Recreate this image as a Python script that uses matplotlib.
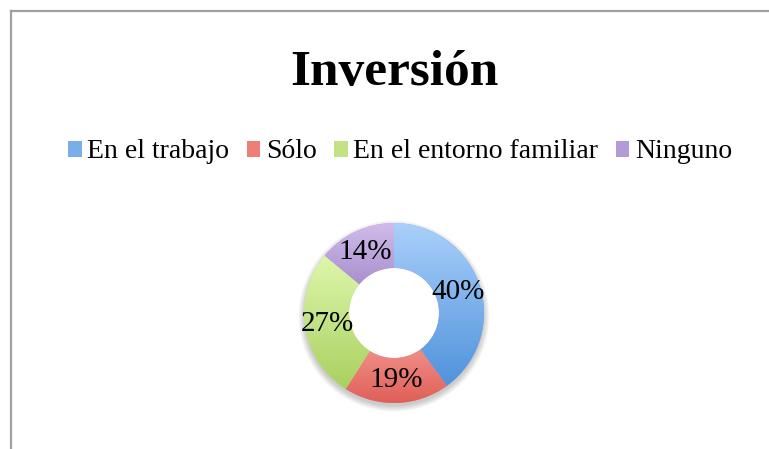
import numpy as np
import matplotlib
matplotlib.use("Agg")
import matplotlib.pyplot as plt
from matplotlib.patches import Patch, Circle
from matplotlib.lines import Line2D

# Chart data
categories = ["En el trabajo", "Sólo", "En el entorno familiar", "Ninguno"]
values = [40, 19, 27, 14]
labels = ["40%", "19%", "27%", "14%"]

# gradient colours per slice (top, bottom)
top_colors = ["#aad0fb", "#fbaca8", "#def7ac", "#d0bcea"]
bottom_colors = ["#4f92dc", "#df5f57", "#a9d05f", "#977bc2"]
mid_colors = ["#78aeea", "#ee7f78", "#c3e285", "#b39bd6"]

plt.rcParams['font.family'] = ['Liberation Serif', 'DejaVu Serif']

W, H = 769, 449
fig = plt.figure(figsize=(W / 100, H / 100), dpi=100)
fig.patch.set_facecolor("white")

# chart frame (only left/top edges visible)
fig.add_artist(Line2D([11 / W, 11 / W], [0, 1 - 11 / H], color="#a0a0a0", lw=1.6))
fig.add_artist(Line2D([11 / W, 1], [1 - 11 / H, 1 - 11 / H], color="#a0a0a0", lw=1.6))

# title
fig.text(394 / W, 1 - 73 / H, "Inversión", ha="center", va="center",
         fontsize=37, fontweight="bold")

# donut axes, center (394, 313) px, radius 90 px
cx, cy, r_px, half = 394, 313, 90, 100
ax = fig.add_axes([(cx - half) / W, (H - cy - half) / H, 2 * half / W, 2 * half / H])
lim = half / r_px
ax.set_xlim(-lim, lim)
ax.set_ylim(-lim, lim)
ax.set_aspect("equal")
ax.axis("off")

# soft shadow under the ring
for k in range(6):
    ax.add_patch(Circle((0.0, -0.035), 1.0 + 0.012 * k, facecolor="#000000",
                        alpha=0.035, lw=0, zorder=0))

wedges, texts, autotexts = ax.pie(values, startangle=90, counterclock=False,
                                  radius=1.0, colors=mid_colors,
                                  wedgeprops=dict(width=0.5, linewidth=0),
                                  autopct="%1.0f%%", pctdistance=0.75,
                                  textprops=dict(fontsize=21, color="black"))
for t, lab in zip(autotexts, labels):
    t.set_text(lab)
    t.set_zorder(5)

# fill each slice with a vertical gradient (light on top, darker below)
for w, c0, c1 in zip(wedges, top_colors, bottom_colors):
    verts = w.get_path().vertices
    x0, x1 = verts[:, 0].min(), verts[:, 0].max()
    y0, y1 = verts[:, 1].min(), verts[:, 1].max()
    a = np.array(matplotlib.colors.to_rgb(c0))
    b = np.array(matplotlib.colors.to_rgb(c1))
    t = np.linspace(0, 1, 256)[:, None]
    grad = (a[None, :] * (1 - t) + b[None, :] * t)[:, None, :]
    im = ax.imshow(grad, extent=[x0, x1, y0, y1], origin="upper",
                   aspect="auto", zorder=2, interpolation="bilinear")
    im.set_clip_path(w)
    w.set_zorder(1)
ax.set_xlim(-lim, lim)
ax.set_ylim(-lim, lim)

# white hole over shadow
ax.add_patch(Circle((0, 0), 0.5, facecolor="white", lw=0, zorder=1.5))

# legend
handles = [Patch(facecolor=c, edgecolor="none") for c in mid_colors]
fig.legend(handles, categories, loc="center", bbox_to_anchor=(400 / W, 1 - 152 / H),
           ncol=4, frameon=False, fontsize=20, handlelength=0.5, handleheight=0.5,
           handletextpad=0.2, columnspacing=0.62)

fig.savefig("out.png", dpi=100, facecolor="white")
